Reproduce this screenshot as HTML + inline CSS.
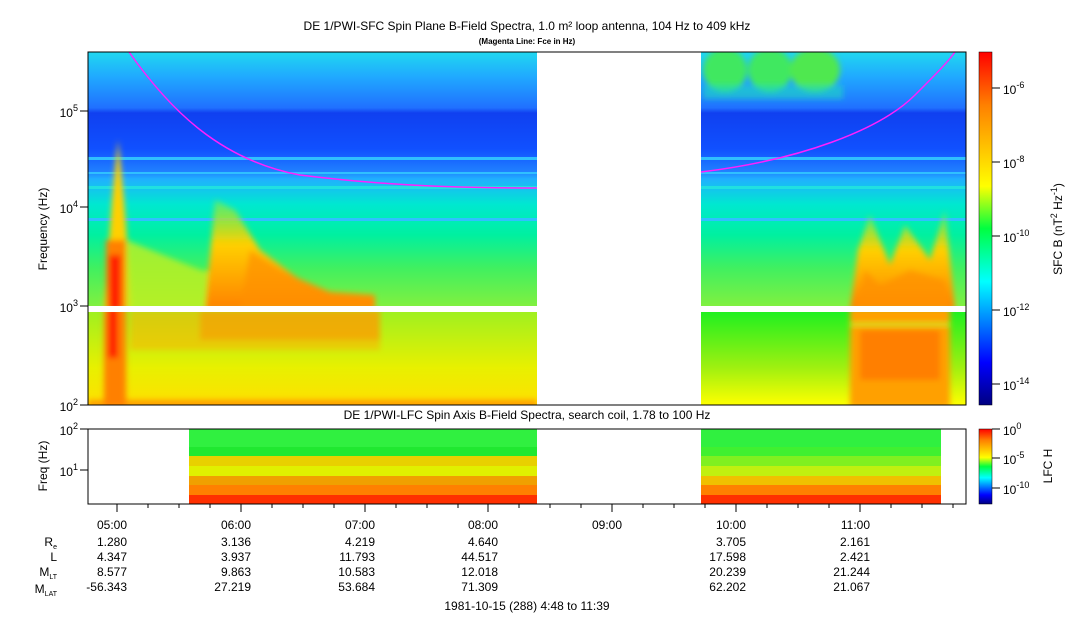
<!DOCTYPE html>
<html><head><meta charset="utf-8"><style>
body{margin:0;background:#fff;width:1083px;height:620px;overflow:hidden}
svg{display:block}
text{font-family:"Liberation Sans",sans-serif;fill:#000}
</style></head><body>
<svg width="1083" height="620" viewBox="0 0 1083 620" xmlns="http://www.w3.org/2000/svg">
<defs>
<linearGradient id="jet" x1="0" y1="1" x2="0" y2="0">
<stop offset="0" stop-color="#000080"/><stop offset="0.12" stop-color="#0000ff"/><stop offset="0.35" stop-color="#00ffff"/><stop offset="0.5" stop-color="#00ff40"/><stop offset="0.62" stop-color="#ffff00"/><stop offset="0.85" stop-color="#ff8000"/><stop offset="1" stop-color="#ff0000"/></linearGradient>
<linearGradient id="topL" x1="0" y1="0" x2="0" y2="1">
<stop offset="0" stop-color="#20d8f0"/><stop offset="0.1" stop-color="#20a8ff"/><stop offset="0.22" stop-color="#2070ff"/><stop offset="0.24" stop-color="#1040f0"/><stop offset="0.38" stop-color="#1050ff"/><stop offset="0.47" stop-color="#2080ff"/><stop offset="0.5" stop-color="#20b0ff"/><stop offset="0.6" stop-color="#00e8d0"/><stop offset="0.72" stop-color="#00f0a0"/><stop offset="0.85" stop-color="#40f060"/><stop offset="1" stop-color="#80f040"/></linearGradient>
<linearGradient id="lowL" x1="0" y1="0" x2="0" y2="1">
<stop offset="0" stop-color="#a0f020"/><stop offset="0.6" stop-color="#e8f000"/><stop offset="1" stop-color="#ffe000"/></linearGradient>
<linearGradient id="lowR" x1="0" y1="0" x2="0" y2="1">
<stop offset="0" stop-color="#20f020"/><stop offset="0.6" stop-color="#a0f010"/><stop offset="1" stop-color="#ffff00"/></linearGradient>
<linearGradient id="warmV" x1="0" y1="0" x2="0" y2="1">
<stop offset="0" stop-color="#80f040" stop-opacity="0.6"/><stop offset="0.4" stop-color="#ffd000"/><stop offset="1" stop-color="#ff8000"/></linearGradient>
<filter id="bl" x="-20%" y="-20%" width="140%" height="140%"><feGaussianBlur stdDeviation="3"/></filter>
<clipPath id="cl"><rect x="88" y="52" width="449" height="254"/></clipPath>
<clipPath id="cr"><rect x="701" y="52" width="265" height="254"/></clipPath>
<clipPath id="cl2"><rect x="88" y="312" width="449" height="93"/></clipPath>
<clipPath id="cr2"><rect x="701" y="312" width="265" height="93"/></clipPath>
</defs>

<text x="527" y="30" font-size="12" text-anchor="middle">DE 1/PWI-SFC  Spin Plane B-Field Spectra, 1.0 m² loop antenna, 104 Hz to 409 kHz</text>
<text x="527" y="44" font-size="8" text-anchor="middle" font-weight="bold">(Magenta Line: Fce in Hz)</text>

<rect x="88" y="52" width="449" height="254" fill="url(#topL)"/>
<rect x="701" y="52" width="265" height="254" fill="url(#topL)"/>
<g fill="#30c0ff">
<rect x="88" y="157" width="449" height="3"/><rect x="88" y="172" width="449" height="2"/><rect x="88" y="186" width="449" height="3" fill="#20e0e0"/><rect x="88" y="218" width="449" height="3"/>
<rect x="701" y="157" width="265" height="3"/><rect x="701" y="172" width="265" height="2"/><rect x="701" y="186" width="265" height="3" fill="#20e0e0"/><rect x="701" y="218" width="265" height="3"/>
</g>
<g clip-path="url(#cr)" filter="url(#bl)">
<ellipse cx="725" cy="70" rx="22" ry="22" fill="#40e860"/>
<ellipse cx="770" cy="70" rx="22" ry="22" fill="#40e860"/>
<ellipse cx="815" cy="70" rx="25" ry="22" fill="#50e850"/>
<rect x="703" y="85" width="140" height="14" fill="#20d8c0" opacity="0.6"/>
</g>
<rect x="88" y="312" width="449" height="93" fill="url(#lowL)"/>
<rect x="701" y="312" width="265" height="93" fill="url(#lowR)"/>
<g clip-path="url(#cl)" filter="url(#bl)">
<polygon points="104,310 112,200 118,140 124,200 132,310" fill="#ffd000"/>
<rect x="106" y="240" width="20" height="70" fill="#ff8000"/>
<rect x="109" y="255" width="12" height="55" fill="#ff2000"/>
<polygon points="126,310 126,240 200,270 260,280 300,290 375,295 375,310" fill="#c0f020" opacity="0.8"/>
<polygon points="205,310 215,200 235,210 260,250 300,280 330,292 375,295 375,310" fill="url(#warmV)"/>
<polygon points="240,310 250,250 280,270 330,292 375,296 375,310" fill="#ff9000" opacity="0.7"/>
</g>
<g clip-path="url(#cl2)" filter="url(#bl)">
<rect x="104" y="308" width="22" height="100" fill="#ff8000"/>
<rect x="108" y="308" width="10" height="50" fill="#ff2000"/>
<rect x="130" y="310" width="250" height="40" fill="#ffb000" opacity="0.55"/>
<rect x="200" y="310" width="180" height="30" fill="#ff9000" opacity="0.5"/>
<rect x="88" y="400" width="449" height="8" fill="#ff8000" opacity="0.7"/>
</g>
<g clip-path="url(#cr)" filter="url(#bl)">
<polygon points="850,310 858,250 870,215 890,265 905,225 930,260 945,210 955,310" fill="url(#warmV)"/>
<polygon points="855,310 865,270 880,285 910,270 945,280 950,310" fill="#ff9000" opacity="0.75"/>
</g>
<g clip-path="url(#cr2)" filter="url(#bl)">
<rect x="850" y="308" width="100" height="100" fill="#ffa000"/>
<rect x="860" y="330" width="80" height="50" fill="#ff7000" opacity="0.7"/>
<rect x="850" y="323" width="100" height="3" fill="#c0f020"/>
</g>
<rect x="88" y="306" width="878" height="6" fill="#fff"/>
<path d="M129,52 C170,110 220,160 300,175 C380,185 450,188 537,188" fill="none" stroke="#ff20ff" stroke-width="1.5"/>
<path d="M701,172 C800,160 880,130 915,95 C935,75 948,62 955,52" fill="none" stroke="#ff20ff" stroke-width="1.5"/>
<rect x="88" y="52" width="878" height="353" fill="none" stroke="#000"/>

<g stroke="#000">
<line x1="80" y1="405" x2="88" y2="405"/><line x1="80" y1="306" x2="88" y2="306"/><line x1="80" y1="207" x2="88" y2="207"/><line x1="80" y1="111" x2="88" y2="111"/>
</g>
<g font-size="12" text-anchor="end">
<text x="78" y="411">10<tspan dy="-6" font-size="9">2</tspan></text>
<text x="78" y="312">10<tspan dy="-6" font-size="9">3</tspan></text>
<text x="78" y="213">10<tspan dy="-6" font-size="9">4</tspan></text>
<text x="78" y="117">10<tspan dy="-6" font-size="9">5</tspan></text>
</g>
<text transform="translate(47,229) rotate(-90)" font-size="12" text-anchor="middle">Frequency (Hz)</text>

<rect x="979" y="52" width="13" height="353" fill="url(#jet)" stroke="#000" stroke-width="0.5"/>
<g stroke="#000"><line x1="992" y1="88" x2="1000" y2="88"/><line x1="992" y1="162" x2="1000" y2="162"/><line x1="992" y1="236" x2="1000" y2="236"/><line x1="992" y1="310" x2="1000" y2="310"/><line x1="992" y1="384" x2="1000" y2="384"/></g>
<g font-size="12">
<text x="1003" y="94">10<tspan dy="-6" font-size="9">-6</tspan></text>
<text x="1003" y="168">10<tspan dy="-6" font-size="9">-8</tspan></text>
<text x="1003" y="242">10<tspan dy="-6" font-size="9">-10</tspan></text>
<text x="1003" y="316">10<tspan dy="-6" font-size="9">-12</tspan></text>
<text x="1003" y="390">10<tspan dy="-6" font-size="9">-14</tspan></text>
</g>
<text transform="translate(1062,229) rotate(-90)" font-size="12" text-anchor="middle">SFC B (nT<tspan dy="-5" font-size="9">2</tspan><tspan dy="5"> Hz</tspan><tspan dy="-5" font-size="9">-1</tspan><tspan dy="5">)</tspan></text>

<text x="527" y="419" font-size="12" text-anchor="middle">DE 1/PWI-LFC  Spin Axis B-Field Spectra, search coil, 1.78 to 100 Hz</text>
<g>
<rect x="189" y="429" width="348" height="18" fill="#30f040"/>
<rect x="189" y="447" width="348" height="9" fill="#20e830"/>
<rect x="189" y="456" width="348" height="10" fill="#e8d000"/>
<rect x="189" y="466" width="348" height="10" fill="#e0f000"/>
<rect x="189" y="476" width="348" height="9" fill="#f0a000"/>
<rect x="189" y="485" width="348" height="10" fill="#ff8000"/>
<rect x="189" y="495" width="348" height="9" fill="#ff3000"/>
<rect x="701" y="429" width="240" height="18" fill="#30f040"/>
<rect x="701" y="447" width="240" height="9" fill="#40f030"/>
<rect x="701" y="456" width="240" height="10" fill="#80f020"/>
<rect x="701" y="466" width="240" height="10" fill="#c0f010"/>
<rect x="701" y="476" width="240" height="9" fill="#f0c000"/>
<rect x="701" y="485" width="240" height="10" fill="#ff8000"/>
<rect x="701" y="495" width="240" height="9" fill="#ff3000"/>
</g>
<rect x="88" y="429" width="878" height="75" fill="none" stroke="#000"/>
<g stroke="#000"><line x1="80" y1="429" x2="88" y2="429"/><line x1="80" y1="470" x2="88" y2="470"/></g>
<g font-size="12" text-anchor="end">
<text x="78" y="435">10<tspan dy="-6" font-size="9">2</tspan></text>
<text x="78" y="476">10<tspan dy="-6" font-size="9">1</tspan></text>
</g>
<text transform="translate(47,466) rotate(-90)" font-size="12" text-anchor="middle">Freq (Hz)</text>
<rect x="979" y="429" width="13" height="75" fill="url(#jet)" stroke="#000" stroke-width="0.5"/>
<g stroke="#000"><line x1="992" y1="429" x2="1000" y2="429"/><line x1="992" y1="458" x2="1000" y2="458"/><line x1="992" y1="488" x2="1000" y2="488"/></g>
<g font-size="12">
<text x="1003" y="435">10<tspan dy="-6" font-size="9">0</tspan></text>
<text x="1003" y="464">10<tspan dy="-6" font-size="9">-5</tspan></text>
<text x="1003" y="494">10<tspan dy="-6" font-size="9">-10</tspan></text>
</g>
<text transform="translate(1052,466) rotate(-90)" font-size="12" text-anchor="middle">LFC H</text>

<g stroke="#000">
<line x1="117" y1="504" x2="117" y2="512"/><line x1="241" y1="504" x2="241" y2="512"/><line x1="365" y1="504" x2="365" y2="512"/><line x1="488" y1="504" x2="488" y2="512"/><line x1="612" y1="504" x2="612" y2="512"/><line x1="736" y1="504" x2="736" y2="512"/><line x1="860" y1="504" x2="860" y2="512"/>
<line x1="148" y1="504" x2="148" y2="508"/><line x1="179" y1="504" x2="179" y2="508"/><line x1="210" y1="504" x2="210" y2="508"/><line x1="272" y1="504" x2="272" y2="508"/><line x1="303" y1="504" x2="303" y2="508"/><line x1="334" y1="504" x2="334" y2="508"/><line x1="396" y1="504" x2="396" y2="508"/><line x1="427" y1="504" x2="427" y2="508"/><line x1="458" y1="504" x2="458" y2="508"/><line x1="519" y1="504" x2="519" y2="508"/><line x1="550" y1="504" x2="550" y2="508"/><line x1="581" y1="504" x2="581" y2="508"/><line x1="643" y1="504" x2="643" y2="508"/><line x1="674" y1="504" x2="674" y2="508"/><line x1="705" y1="504" x2="705" y2="508"/><line x1="767" y1="504" x2="767" y2="508"/><line x1="798" y1="504" x2="798" y2="508"/><line x1="829" y1="504" x2="829" y2="508"/><line x1="891" y1="504" x2="891" y2="508"/><line x1="922" y1="504" x2="922" y2="508"/><line x1="953" y1="504" x2="953" y2="508"/>
</g>
<g font-size="12" text-anchor="end">
<text x="57" y="546">R<tspan dy="3" font-size="7">e</tspan></text>
<text x="57" y="561">L</text>
<text x="57" y="576">M<tspan dy="3" font-size="7">LT</tspan></text>
<text x="57" y="593">M<tspan dy="3" font-size="7">LAT</tspan></text>
<text x="127" y="529">05:00</text><text x="127" y="546">1.280</text><text x="127" y="561">4.347</text><text x="127" y="576">8.577</text><text x="127" y="591">-56.343</text>
<text x="251" y="529">06:00</text><text x="251" y="546">3.136</text><text x="251" y="561">3.937</text><text x="251" y="576">9.863</text><text x="251" y="591">27.219</text>
<text x="375" y="529">07:00</text><text x="375" y="546">4.219</text><text x="375" y="561">11.793</text><text x="375" y="576">10.583</text><text x="375" y="591">53.684</text>
<text x="498" y="529">08:00</text><text x="498" y="546">4.640</text><text x="498" y="561">44.517</text><text x="498" y="576">12.018</text><text x="498" y="591">71.309</text>
<text x="622" y="529">09:00</text>
<text x="746" y="529">10:00</text><text x="746" y="546">3.705</text><text x="746" y="561">17.598</text><text x="746" y="576">20.239</text><text x="746" y="591">62.202</text>
<text x="870" y="529">11:00</text><text x="870" y="546">2.161</text><text x="870" y="561">2.421</text><text x="870" y="576">21.244</text><text x="870" y="591">21.067</text>
</g>
<text x="527" y="610" font-size="12" text-anchor="middle">1981-10-15 (288) 4:48 to 11:39</text>
</svg>
</body></html>
